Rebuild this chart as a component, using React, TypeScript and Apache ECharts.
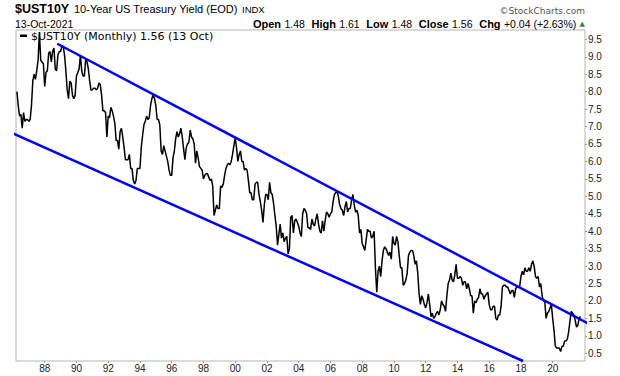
import React, { useEffect, useRef } from "react";
import * as echarts from "echarts";

// Monthly closes of $UST10Y, first value = April 1986
const startYear = 1986;
const startMonth = 4;

const closes1986to1990 = [
  8.0, 7.6, 7.3, 7.35, 6.95, 7.4, 7.15, 7.2, 7.2,
  7.15, 7.2, 7.6, 8.3, 8.5, 8.35, 8.6, 8.9, 9.7, 8.9, 8.85, 8.8,
  8.15, 8.55, 8.6, 9.1, 9.15, 8.85, 9.15, 9.25, 8.65, 8.6, 9.05, 9.15,
  9.15, 9.3, 9.3, 9.05, 8.6, 8.05, 7.8, 8.3, 8.25, 7.9, 7.8, 7.9,
  8.45, 8.55, 8.65, 9.05, 8.6, 8.45, 8.45, 8.95, 8.85, 8.65, 8.3, 8.05,
];
const closes1991to1995 = [
  8.05, 8.1, 8.1, 8.05, 8.1, 8.25, 8.2, 7.9, 7.45, 7.45, 7.4, 6.7,
  7.3, 7.25, 7.55, 7.45, 7.3, 7.1, 6.6, 6.6, 6.35, 6.85, 6.95, 6.7,
  6.4, 6.05, 6.05, 6.05, 6.2, 5.8, 5.8, 5.45, 5.35, 5.45, 5.8, 5.8,
  5.8, 6.4, 6.75, 7.05, 7.15, 7.3, 7.2, 7.25, 7.6, 7.8, 7.9, 7.8,
  7.6, 7.2, 7.2, 7.05, 6.3, 6.2, 6.45, 6.3, 6.15, 6.0, 5.75, 5.6,
];
const closes1996to2000 = [
  5.6, 6.1, 6.3, 6.65, 6.85, 6.7, 6.8, 6.95, 6.7, 6.35, 6.05, 6.4,
  6.5, 6.55, 6.9, 6.7, 6.65, 6.5, 5.95, 6.3, 6.1, 5.85, 5.8, 5.75,
  5.5, 5.6, 5.65, 5.65, 5.55, 5.45, 5.5, 5.3, 4.45, 4.6, 4.75, 4.65,
  4.65, 5.3, 5.25, 5.35, 5.6, 5.8, 5.9, 5.95, 5.9, 6.0, 6.2, 6.45,
  6.67, 6.4, 6.0, 6.2, 6.3, 6.0, 6.0, 5.75, 5.8, 5.75, 5.45, 5.1,
];
const closes2001to2005 = [
  5.1, 4.9, 4.9, 5.35, 5.4, 5.4, 5.05, 4.85, 4.6, 4.25, 4.75, 5.05,
  5.05, 4.9, 5.4, 5.1, 5.05, 4.8, 4.45, 4.15, 3.6, 3.9, 4.2, 3.8,
  3.95, 3.7, 3.8, 3.85, 3.35, 3.5, 4.4, 4.45, 3.95, 4.3, 4.35, 4.25,
  4.15, 3.95, 3.85, 4.5, 4.65, 4.6, 4.5, 4.1, 4.1, 4.05, 4.35, 4.2,
  4.15, 4.35, 4.5, 4.2, 4.0, 3.95, 4.3, 4.0, 4.3, 4.55, 4.5, 4.4,
];
const closes2006to2010 = [
  4.5, 4.55, 4.85, 5.05, 5.1, 5.15, 5.0, 4.75, 4.65, 4.6, 4.45, 4.7,
  4.85, 4.55, 4.65, 4.65, 4.9, 5.05, 4.75, 4.55, 4.6, 4.45, 3.95, 4.05,
  3.65, 3.55, 3.45, 3.75, 4.05, 4.0, 4.0, 3.8, 3.85, 4.0, 2.95, 2.25,
  2.85, 3.0, 2.7, 3.15, 3.45, 3.55, 3.5, 3.4, 3.3, 3.4, 3.2, 3.85,
  3.65, 3.6, 3.85, 3.7, 3.3, 2.95, 2.95, 2.45, 2.5, 2.6, 2.8, 3.3,
];
const closes2011to2015 = [
  3.4, 3.45, 3.45, 3.3, 3.05, 3.15, 2.8, 2.2, 1.9, 2.15, 2.05, 1.9,
  1.8, 1.95, 2.2, 1.9, 1.55, 1.65, 1.5, 1.55, 1.65, 1.7, 1.6, 1.75,
  2.0, 1.9, 1.85, 1.7, 2.15, 2.5, 2.6, 2.8, 2.6, 2.55, 2.75, 3.05,
  2.65, 2.65, 2.7, 2.65, 2.45, 2.55, 2.55, 2.35, 2.5, 2.35, 2.15, 2.15,
  1.65, 2.0, 1.95, 2.05, 2.1, 2.35, 2.2, 2.2, 2.05, 2.15, 2.2, 2.25,
];
const closes2016to2021 = [
  1.9, 1.75, 1.75, 1.85, 1.85, 1.5, 1.45, 1.6, 1.6, 1.85, 2.4, 2.45,
  2.45, 2.4, 2.4, 2.3, 2.2, 2.3, 2.3, 2.1, 2.35, 2.4, 2.4, 2.4,
  2.7, 2.85, 2.75, 2.95, 2.85, 2.85, 2.95, 2.85, 3.05, 3.15, 3.0, 2.7,
  2.65, 2.7, 2.4, 2.5, 2.15, 2.0, 2.0, 1.5, 1.65, 1.7, 1.8, 1.9,
  1.5, 1.15, 0.7, 0.65, 0.65, 0.65, 0.55, 0.7, 0.7, 0.85, 0.85, 0.9,
  1.1, 1.4, 1.7, 1.65, 1.6, 1.45, 1.25, 1.3, 1.5, 1.56,
];

// Trend channel end points [year, yield]
const upperChannel = [
  [1988.79, 9.373],
  [2022.31, 1.334],
];
const lowerChannel = [
  [1985.48, 6.906],
  [2018.13, 0.279],
];

const xTickYears = [1988, 1990, 1992, 1994, 1996, 1998, 2000, 2002, 2004, 2006, 2008, 2010, 2012, 2014, 2016, 2018, 2020];
const yTickValues = [0.5, 1, 1.5, 2, 2.5, 3, 3.5, 4, 4.5, 5, 5.5, 6, 6.5, 7, 7.5, 8, 8.5, 9, 9.5];

const xMin = 1986.192;
const xMax = 2022.035;
const yMin = 0.279;
const yMax = 9.767;

const SANS = '"Liberation Sans", Arial, sans-serif';
const DEJAVU = '"DejaVu Sans", Verdana, sans-serif';

export default function App() {
  const ref = useRef<HTMLDivElement>(null);

  useEffect(() => {
    if (!ref.current) return;
    const chart = echarts.init(ref.current, null, { renderer: "svg" });
    const closes = [
      ...closes1986to1990,
      ...closes1991to1995,
      ...closes1996to2000,
      ...closes2001to2005,
      ...closes2006to2010,
      ...closes2011to2015,
      ...closes2016to2021,
    ];
    const lineData = closes.map((v, i) => [startYear + (startMonth - 1 + i) / 12, v]);

    chart.setOption({
      animation: false,
      grid: {
        left: 16,
        top: 30,
        right: 35,
        bottom: 15,
        show: true,
        borderColor: "#b5b5b5",
        borderWidth: 1,
        backgroundColor: "transparent",
      },
      xAxis: {
        type: "value",
        min: xMin,
        max: xMax,
        splitLine: { show: false },
        axisLine: { show: false },
        axisTick: {
          show: true,
          length: 2,
          lineStyle: { color: "#999" },
          customValues: xTickYears,
        },
        axisLabel: {
          customValues: xTickYears,
          formatter: (v: number) => String(Math.round(v)).slice(2),
          fontSize: 10,
          fontFamily: SANS,
          color: "#222",
          margin: 2,
        },
      },
      yAxis: {
        type: "value",
        position: "right",
        min: yMin,
        max: yMax,
        splitLine: { show: false },
        axisLine: { show: false },
        axisTick: {
          show: true,
          length: 2,
          lineStyle: { color: "#999" },
          customValues: yTickValues,
        },
        axisLabel: {
          customValues: yTickValues,
          formatter: (v: number) => v.toFixed(1),
          fontSize: 10,
          fontFamily: SANS,
          color: "#222",
          margin: 3,
        },
      },
      series: [
        {
          type: "line",
          data: lineData,
          showSymbol: false,
          symbol: "none",
          lineStyle: { color: "#000", width: 1.5 },
          z: 2,
        },
        {
          type: "line",
          data: upperChannel,
          showSymbol: false,
          symbol: "none",
          clip: false,
          lineStyle: { color: "#0000ff", width: 2.5 },
          z: 3,
        },
        {
          type: "line",
          data: lowerChannel,
          showSymbol: false,
          symbol: "none",
          clip: false,
          lineStyle: { color: "#0000ff", width: 2.5 },
          z: 3,
        },
      ],
      graphic: [
        {
          type: "text",
          x: 15,
          y: 9,
          style: { text: "$UST10Y", font: `bold 12.5px ${SANS}`, fill: "#000", verticalAlign: "middle" },
        },
        {
          type: "text",
          x: 74,
          y: 9,
          style: { text: "10-Year US Treasury Yield (EOD)", font: `11px ${SANS}`, fill: "#000", verticalAlign: "middle" },
        },
        {
          type: "text",
          x: 242,
          y: 9.5,
          style: { text: "INDX", font: `9.5px ${SANS}`, fill: "#000", verticalAlign: "middle" },
        },
        {
          type: "text",
          x: 585,
          y: 10.5,
          style: { text: "\u00a9StockCharts.com", font: `9px ${DEJAVU}`, fill: "#555", align: "right", verticalAlign: "middle" },
        },
        {
          type: "text",
          x: 15,
          y: 23.5,
          style: { text: "13-Oct-2021", font: `10.5px ${SANS}`, fill: "#000", verticalAlign: "middle" },
        },
        {
          type: "text",
          x: 585,
          y: 23.5,
          style: {
            text:
              "{b|Open} {v|1.48}  {b|High} {v|1.61}  {b|Low} {v|1.48}  {b|Close} {v|1.56}  {b|Chg} {v|+0.04 (+2.63%)} {g|\u25b2}",
            align: "right",
            verticalAlign: "middle",
            rich: {
              b: { font: `bold 11px ${SANS}`, fill: "#000" },
              v: { font: `10.5px ${SANS}`, fill: "#000" },
              g: { font: `7px ${DEJAVU}`, fill: "#2e8b2e" },
            },
          },
        },
        {
          type: "rect",
          shape: { x: 20, y: 34.5, width: 7, height: 2.5 },
          style: { fill: "#000" },
        },
        {
          type: "text",
          x: 31,
          y: 36,
          style: { text: "$UST10Y (Monthly) 1.56 (13 Oct)", font: `11px ${DEJAVU}`, fill: "#000", verticalAlign: "middle" },
        },
      ],
    });
    return () => chart.dispose();
  }, []);

  return <div ref={ref} style={{ position: "absolute", left: 0, top: 0, width: 620, height: 376 }} />;
}
